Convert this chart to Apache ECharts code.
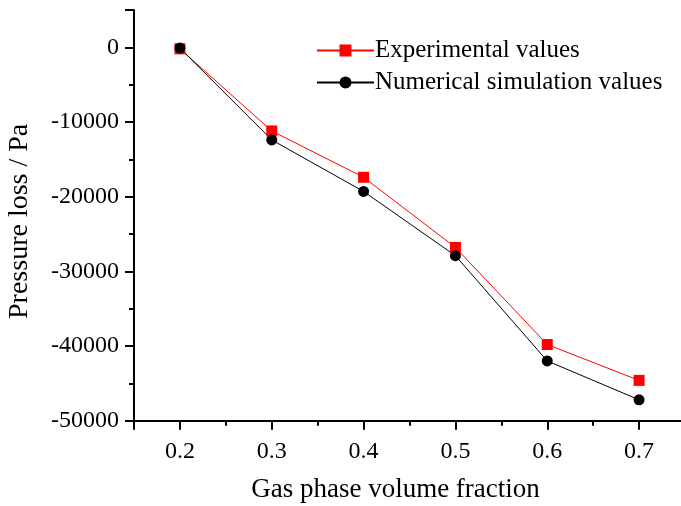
<!DOCTYPE html>
<html>
<head>
<meta charset="utf-8">
<script src="https://cdn.jsdelivr.net/npm/echarts@6/dist/echarts.min.js"></script>
<style>html,body{margin:0;padding:0;background:#fff}#c{width:681px;height:506px}</style>
</head>
<body>
<div id="c"></div>
<script>
var xValues = [0.2, 0.3, 0.4, 0.5, 0.6, 0.7];
var experimental = [-200, -11200, -17400, -26800, -39800, -44600];
var simulation = [-100, -12400, -19300, -27900, -42000, -47200];
var seriesNames = ['Experimental values', 'Numerical simulation values'];
var xName = 'Gas phase volume fraction';
var yName = 'Pressure loss / Pa';

var FONT = 'Liberation Serif';
function pairs(xs, ys) { return xs.map(function (x, i) { return [x, ys[i]]; }); }

var chart = echarts.init(document.getElementById('c'), null, {renderer: 'canvas'});
chart.setOption({
  animation: false,
  backgroundColor: '#fff',
  grid: {left: 134, top: 10, bottom: 85.3, right: -4, containLabel: false, outerBoundsMode: 'none'},
  legend: {
    orient: 'vertical', left: 316, top: 38, padding: 0, itemWidth: 57, itemHeight: 15, itemGap: 7,
    textStyle: {fontFamily: FONT, fontSize: 25, color: '#000', lineHeight: 25, padding: [0, 0, 0, -4]},
    data: seriesNames
  },
  xAxis: [{
    type: 'value', min: 0.15, max: 0.75, splitNumber: 6,
    name: xName, nameLocation: 'middle', nameGap: 56,
    nameTextStyle: {fontFamily: FONT, fontSize: 27, color: '#000', padding: [0, 28, 0, 0]},
    axisLine: {onZero: false, lineStyle: {color: '#000', width: 2}},
    axisTick: {length: 9, lineStyle: {color: '#000', width: 2}},
    axisLabel: {fontFamily: FONT, fontSize: 24, color: '#000', margin: 19,
      formatter: function (v) { var r = Math.round(v * 100); return (r % 10 === 0) ? (r / 100).toFixed(1) : ''; }},
    splitLine: {show: false}
  }, {
    type: 'value', min: 0.15, max: 0.75, interval: 0.05, position: 'bottom', offset: 0,
    axisLine: {show: false, onZero: false},
    axisTick: {length: 5, lineStyle: {color: '#000', width: 2}},
    axisLabel: {show: false}, splitLine: {show: false}
  }],
  yAxis: [{
    type: 'value', min: -50000, max: 5000, interval: 10000,
    position: 'left', offset: 0,
    name: yName, nameLocation: 'middle', nameGap: 100,
    nameTextStyle: {fontFamily: FONT, fontSize: 28, color: '#000', padding: [0, 12, 0, 0]},
    axisLine: {show: true, onZero: false, lineStyle: {color: '#000', width: 2}},
    axisTick: {show: true, length: 9, lineStyle: {color: '#000', width: 2}},
    axisLabel: {fontFamily: FONT, fontSize: 24, color: '#000', margin: 15,
      formatter: function (v) { return v > 0 ? '' : String(v); }},
    splitLine: {show: false}
  }, {
    type: 'value', min: -50000, max: 5000, interval: 5000,
    position: 'left', offset: 0,
    axisLine: {show: false, onZero: false},
    axisTick: {show: true, length: 5, lineStyle: {color: '#000', width: 2}},
    axisLabel: {show: false}, splitLine: {show: false}
  }],
  series: [{
    name: seriesNames[0], type: 'line', xAxisIndex: 0, yAxisIndex: 0,
    data: pairs(xValues, experimental),
    symbol: 'rect', symbolSize: 11,
    lineStyle: {color: '#ff0000', width: 1}, itemStyle: {color: '#ff0000'}
  }, {
    name: seriesNames[1], type: 'line', xAxisIndex: 0, yAxisIndex: 0,
    data: pairs(xValues, simulation),
    symbol: 'circle', symbolSize: 11,
    lineStyle: {color: '#000', width: 1}, itemStyle: {color: '#000'}
  }]
});
</script>
</body>
</html>
